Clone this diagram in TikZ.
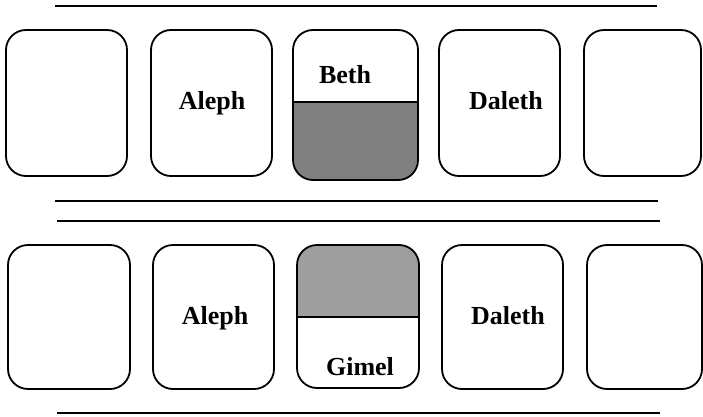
\documentclass[tikz,border=0pt]{standalone}
\usepackage{fontspec}
\setmainfont{Liberation Serif}
\begin{document}
\begin{tikzpicture}[x=1pt, y=1pt]
% Two rows of letter cards between rules
\providecommand{\cardLineWidth}{1.8pt}
\providecommand{\ruleLineWidth}{1.2pt}
\providecommand{\cardRadius}{20pt}
\providecommand{\upperShade}{black!50}
\providecommand{\lowerShade}{black!38}
\tikzset{
  card/.style={draw=black, line width=\cardLineWidth, rounded corners=\cardRadius},
  lbl/.style={font=\fontsize{26}{30}\selectfont\bfseries, inner sep=0pt}
}
\useasboundingbox (0,0) rectangle (703,416);
% Rules
\begin{scope}[draw=black, line width=\ruleLineWidth]
  \draw (55,410) -- (657,410);
  \draw (55,215) -- (658,215);
  \draw (57,195) -- (660,195);
  \draw (57,3) -- (660,3);
\end{scope}
% Shaded halves
\begin{scope}
  \clip[rounded corners=\cardRadius] (293,236) rectangle (418,386);
  \fill[\upperShade] (293,236) rectangle (418,314);
\end{scope}
\begin{scope}
  \clip[rounded corners=\cardRadius] (297,28) rectangle (419,171);
  \fill[\lowerShade] (297,99) rectangle (419,171);
\end{scope}
% Upper row
\draw[card] (6,240) rectangle (127,386);
\draw[card] (151,240) rectangle (272,386);
\draw[card] (293,236) rectangle (418,386);
\draw[card] (439,240) rectangle (560,386);
\draw[card] (584,240) rectangle (701,386);
\draw[line width=\cardLineWidth] (293,314) -- (418,314);
% Lower row
\draw[card] (8,27) rectangle (130,171);
\draw[card] (153,27) rectangle (274,171);
\draw[card] (297,28) rectangle (419,171);
\draw[card] (442,27) rectangle (563,171);
\draw[card] (587,27) rectangle (702,171);
\draw[line width=\cardLineWidth] (297,99) -- (419,99);
% Labels
\node[lbl, anchor=base] (alephUp) at (212,307) {Aleph};
\node[lbl, anchor=base] (beth) at (345,333) {Beth};
\node[lbl, anchor=base] (dalethUp) at (506,307) {Daleth};
\node[lbl, anchor=base] (alephLow) at (215,92) {Aleph};
\node[lbl, anchor=base] (gimel) at (360,41) {Gimel};
\node[lbl, anchor=base] (dalethLow) at (508,92) {Daleth};
\end{tikzpicture}
\end{document}
